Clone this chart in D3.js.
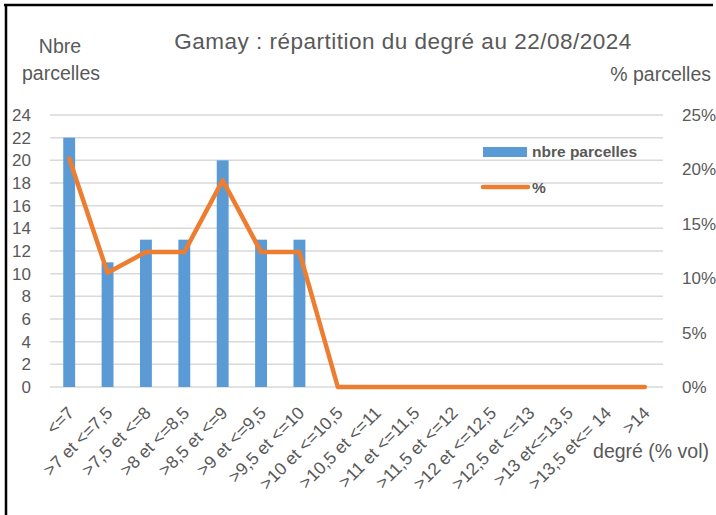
<!DOCTYPE html>
<html>
<head>
<meta charset="utf-8">
<script src="https://cdn.jsdelivr.net/npm/d3@7"></script>
<style>
  body { margin: 0; background: #fff; }
  svg text { font-family: "Liberation Sans", Arial, sans-serif; fill: #595959; }
</style>
</head>
<body>
<svg id="chart" width="716" height="515"></svg>
<script>
var categories = ["<=7", ">7 et <=7,5", ">7,5 et <=8", ">8 et <=8,5", ">8,5 et <=9", ">9 et <=9,5",
  ">9,5 et <=10", ">10 et <=10,5", ">10,5 et <=11", ">11 et <=11,5", ">11,5 et <=12",
  ">12 et <=12,5", ">12,5 et <=13", ">13 et<=13,5", ">13,5 et<= 14", ">14"];
var nbreParcelles = [22, 11, 13, 13, 20, 13, 13, 0, 0, 0, 0, 0, 0, 0, 0, 0];
var pctParcelles = [0.21, 0.105, 0.124, 0.124, 0.19, 0.124, 0.124, 0, 0, 0, 0, 0, 0, 0, 0, 0];
var leftTicks = [0, 2, 4, 6, 8, 10, 12, 14, 16, 18, 20, 22, 24];
var rightTicks = [0, 0.05, 0.10, 0.15, 0.20, 0.25];

function init() {
  var svg = d3.select("#chart");
  var plot = { left: 50, right: 664, top: 115, bottom: 387 };

  var x = d3.scaleBand().domain(categories).range([plot.left, plot.right]).paddingInner(0.69).paddingOuter(0.345);
  var y = d3.scaleLinear().domain([0, 24]).range([plot.bottom, plot.top]);
  var y2 = d3.scaleLinear().domain([0, 0.25]).range([plot.bottom, plot.top]);

  // frame
  svg.append("line").attr("x1", 6).attr("x2", 6).attr("y1", 4).attr("y2", 515)
    .attr("stroke", "#000").attr("stroke-width", 2.5);
  svg.append("line").attr("x1", 4).attr("x2", 713).attr("y1", 5).attr("y2", 5)
    .attr("stroke", "#000").attr("stroke-width", 2.5);

  // gridlines
  svg.append("g").selectAll("line").data(leftTicks).enter().append("line")
    .attr("x1", plot.left).attr("x2", plot.right - 1)
    .attr("y1", function (d) { return y(d); }).attr("y2", function (d) { return y(d); })
    .attr("stroke", "#d9d9d9").attr("stroke-width", 1.5);

  // left axis
  var yAxis = d3.axisLeft(y).tickValues(leftTicks).tickSize(0).tickPadding(0);
  var gy = svg.append("g").attr("transform", "translate(31,0)").call(yAxis);
  gy.select(".domain").remove();
  gy.selectAll("text").attr("font-size", 17).attr("fill", "#595959").attr("font-family", "Liberation Sans");

  // right axis
  var yAxis2 = d3.axisRight(y2).tickValues(rightTicks).tickSize(0).tickPadding(0).tickFormat(d3.format(".0%"));
  var gy2 = svg.append("g").attr("transform", "translate(682,0)").call(yAxis2);
  gy2.select(".domain").remove();
  gy2.selectAll("text").attr("font-size", 17).attr("fill", "#595959").attr("font-family", "Liberation Sans");

  // bars
  svg.append("g").selectAll("rect").data(nbreParcelles).enter().append("rect")
    .attr("x", function (d, i) { return x(categories[i]); })
    .attr("width", x.bandwidth())
    .attr("y", function (d) { return y(d); })
    .attr("height", function (d) { return y(0) - y(d); })
    .attr("fill", "#5B9BD5");

  // line
  var line = d3.line()
    .x(function (d, i) { return x(categories[i]) + x.bandwidth() / 2; })
    .y(function (d) { return y2(d); });
  svg.append("path").datum(pctParcelles)
    .attr("d", line)
    .attr("fill", "none").attr("stroke", "#ED7D31").attr("stroke-width", 4.5)
    .attr("stroke-linejoin", "round").attr("stroke-linecap", "round");

  // x labels
  svg.append("g").selectAll("text").data(categories).enter().append("text")
    .attr("transform", function (d) {
      return "translate(" + (x(d) + x.bandwidth() / 2 + 6) + ",414) rotate(-45)";
    })
    .attr("text-anchor", "end")
    .attr("font-size", 17.5)
    .text(function (d) { return d; });

  // titles
  svg.append("text").attr("x", 403).attr("y", 49).attr("text-anchor", "middle")
    .attr("font-size", 22.5).attr("letter-spacing", 0.5).text("Gamay : répartition du degré au 22/08/2024");
  svg.append("text").attr("x", 60).attr("y", 53).attr("text-anchor", "middle")
    .attr("font-size", 19.5).text("Nbre");
  svg.append("text").attr("x", 61).attr("y", 80).attr("text-anchor", "middle")
    .attr("font-size", 19.5).text("parcelles");
  svg.append("text").attr("x", 711).attr("y", 81).attr("text-anchor", "end")
    .attr("font-size", 19.5).text("% parcelles");
  svg.append("text").attr("x", 709).attr("y", 458).attr("text-anchor", "end")
    .attr("font-size", 19.5).text("degré (% vol)");

  // legend
  var legend = svg.append("g");
  legend.append("rect").attr("x", 483).attr("y", 147).attr("width", 44).attr("height", 10).attr("fill", "#5B9BD5");
  legend.append("text").attr("x", 532).attr("y", 157).attr("font-size", 15.5).attr("font-weight", "bold")
    .text("nbre parcelles");
  legend.append("line").attr("x1", 483).attr("x2", 528).attr("y1", 187).attr("y2", 187)
    .attr("stroke", "#ED7D31").attr("stroke-width", 4.5).attr("stroke-linecap", "round");
  legend.append("text").attr("x", 532).attr("y", 193).attr("font-size", 15.5).attr("font-weight", "bold")
    .text("%");
}

window.addEventListener("DOMContentLoaded", init);
</script>
</body>
</html>
